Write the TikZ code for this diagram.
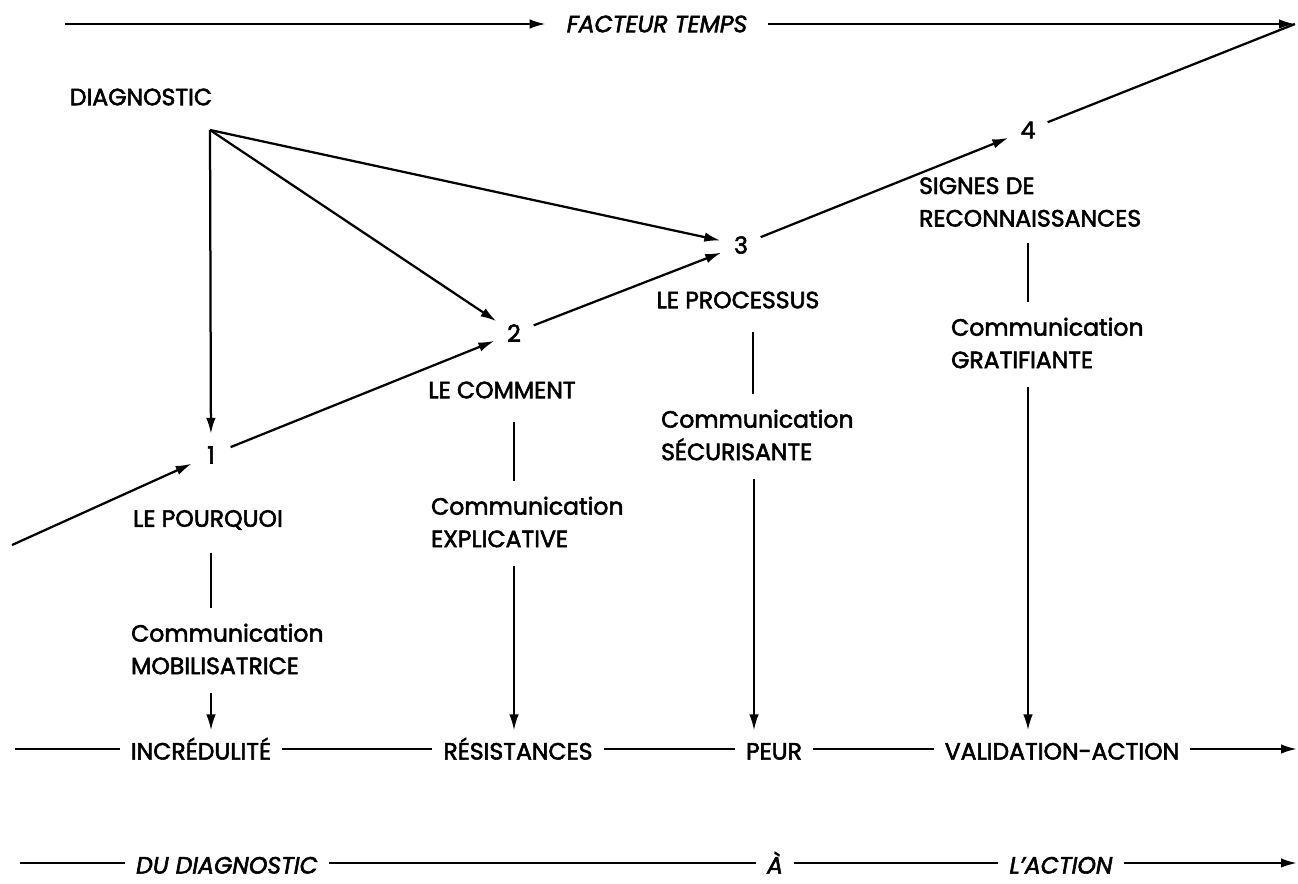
\documentclass[tikz,border=0pt]{standalone}
\usepackage{fontspec}
\setmainfont{Poppins}[FakeBold=2.3]
\usetikzlibrary{arrows.meta,calc}
\begin{document}
\begin{tikzpicture}[x=0.2mm,y=-0.2mm,
  font=\fontsize{13.4}{18.5}\selectfont,
  line width=0.45mm,
  every node/.style={inner sep=0pt},
  tip/.style={-{Latex[length=3.2mm,width=1.9mm]}},
  num/.style={circle,minimum size=8mm,inner sep=0pt},
  rail/.style={inner xsep=2mm,inner ysep=1.2mm,text height=12.5pt,text depth=0.5pt},
  lbl/.style={align=left,anchor=west},
  stem/.style={shorten <=4.5mm,shorten >=3mm},
  feed/.style={tip,shorten <=3.5mm},
  slant/.style={font=\fontsize{13.4}{18.5}\selectfont\itshape}
]
\fill[white] (0,0) rectangle (1298,883);
\useasboundingbox (0,0) rectangle (1298,883);

% time axis along the top
\coordinate (tl) at (65,24);
\coordinate (tr) at (1295,24);
\node[slant,inner xsep=4mm] (ft) at (657,24) {FACTEUR TEMPS};
\draw[tip] (tl) -- (ft);
\draw[tip] (ft) -- (tr);

% diagnostic and its three arrows
\node (diag) at (141,97) {DIAGNOSTIC};
\coordinate (apex) at (210,130);

% numbered stages
\node[num] (n1) at (211,455) {1};
\node[num] (n2) at (514,333) {2};
\node[num] (n3) at (741,245) {3};
\node[num] (n4) at (1028,130) {4};

\draw[tip] (apex) -- (n1);
\draw[tip] (apex) -- (n2);
\draw[tip] (apex) -- (n3);

% rising path through the stages
\coordinate (start) at (12,545);
\draw[tip] (start) -- (n1);
\draw[tip] (n1) -- (n2);
\draw[tip] (n2) -- (n3);
\draw[tip] (n3) -- (n4);
\draw (n4) -- (tr);

% stage titles
\node (la1) at (208,520) {LE POURQUOI};
\node (la2) at (502,390) {LE COMMENT};
\node (la3) at (738,300) {LE PROCESSUS};
\node[lbl] (la4) at (918,202) {SIGNES DE\\RECONNAISSANCES};

% kinds of communication
\node[lbl] (c1) at (130,649) {Communication\\MOBILISATRICE};
\node[lbl] (c2) at (430,522) {Communication\\EXPLICATIVE};
\node[lbl] (c3) at (660,435) {Communication\\SÉCURISANTE};
\node[lbl] (c4) at (950,343) {Communication\\GRATIFIANTE};

% reactions line
\coordinate (b1s) at (15,749);
\coordinate (b1e) at (1297,749);
\node[rail] (r1) at (201,749) {INCRÉDULITÉ};
\node[rail] (r2) at (518,749) {RÉSISTANCES};
\node[rail] (r3) at (774,749) {PEUR};
\node[rail] (r4) at (1062,749) {VALIDATION-ACTION};
\draw (b1s) -- (r1) -- (r2) -- (r3) -- (r4);
\draw[tip] (r4) -- (b1e);

% stems from title to communication to reaction
\draw[stem] (la1.south -| n1) -- (c1.north -| n1);
\draw[stem] (la2.south -| n2) -- (c2.north -| n2);
\draw[stem] ($(la3.south -| n3)+(12,0)$) -- ($(c3.north -| n3)+(12,0)$);
\draw[stem,shorten <=3mm] (la4.south -| n4) -- (c4.north -| n4);
\draw[feed] (c1.south -| n1) -- (r1.north -| n1);
\draw[feed] (c2.south -| n2) -- (r2.north -| n2);
\draw[feed] ($(c3.south -| n3)+(13,0)$) -- ($(r3.north -| n3)+(13,0)$);
\draw[feed] (c4.south -| n4) -- (r4.north -| n4);

% bottom line: from diagnosis to action
\coordinate (b2s) at (20,863);
\coordinate (b2e) at (1297,863);
\node[rail,slant] (d1) at (227,863) {DU DIAGNOSTIC};
\node[rail,slant] (d2) at (775,863) {À};
\node[rail,slant] (d3) at (1061,863) {L'ACTION};
\draw (b2s) -- (d1) -- (d2) -- (d3);
\draw[tip] (d3) -- (b2e);
\end{tikzpicture}
\end{document}
